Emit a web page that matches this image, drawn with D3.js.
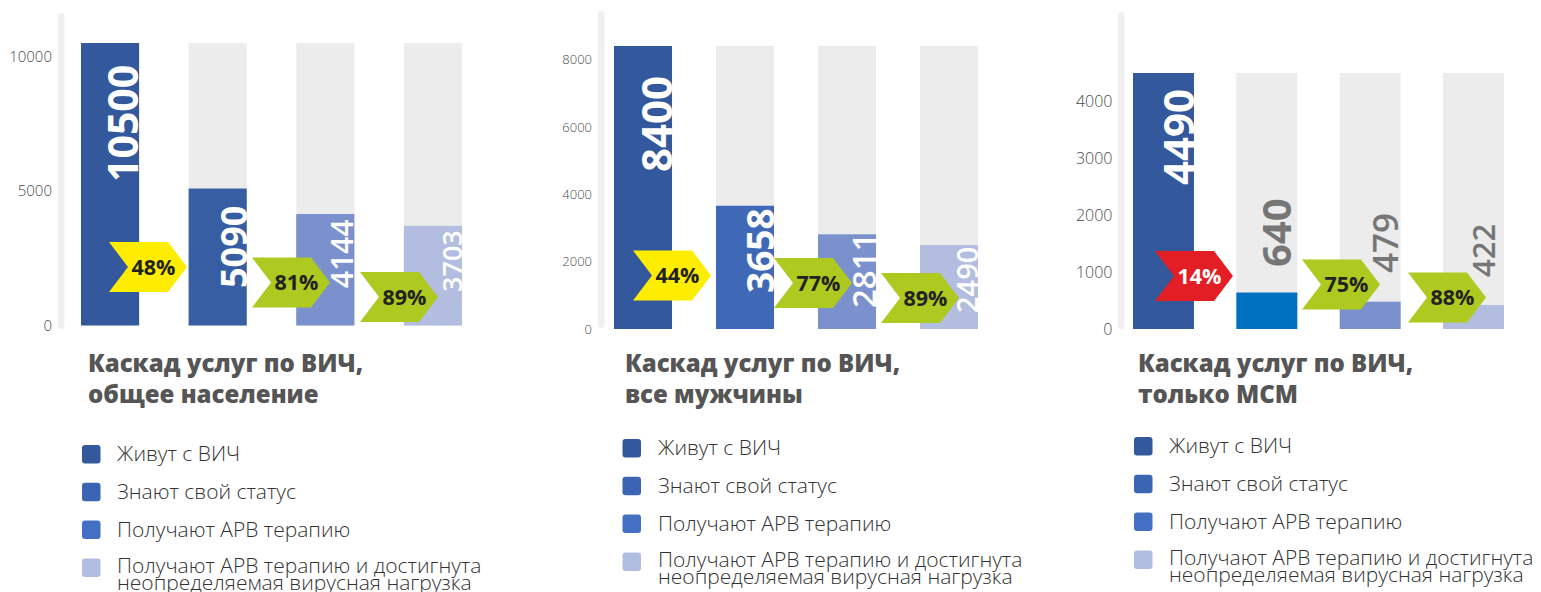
<!DOCTYPE html>
<html><head><meta charset="utf-8">
<script src="https://cdn.jsdelivr.net/npm/d3@7/dist/d3.min.js"></script>
<style>body{margin:0;background:#fff}svg{display:block}</style>
</head><body><svg id="c" width="1541" height="592"></svg>
<script>
// ---------- data ----------
const categories = ["Живут с ВИЧ", "Знают свой статус", "Получают АРВ терапию",
  "Получают АРВ терапию и достигнута\nнеопределяемая вирусная нагрузка"];
const valuesGeneral = [10500, 5090, 4144, 3703];
const valuesMen = [8400, 3658, 2811, 2490];
const valuesMSM = [4490, 640, 479, 422];
const ratesGeneral = ["48%", "81%", "89%"];
const ratesMen = ["44%", "77%", "89%"];
const ratesMSM = ["14%", "75%", "88%"];
const ticksGeneral = [0, 5000, 10000];
const ticksMen = [0, 2000, 4000, 6000, 8000];
const ticksMSM = [0, 1000, 2000, 3000, 4000];
const titleLine1 = ["Каскад услуг по ВИЧ,", "Каскад услуг по ВИЧ,", "Каскад услуг по ВИЧ,"];
const titleLine2 = ["общее население", "все мужчины", "только МСМ"];

// ---------- layout / style (not data) ----------
const FONT = "'Open Sans', 'Noto Sans', sans-serif";
const GRAY_BG = "#ebeceb";
const legendColors = ["#33589b", "#3b64b2", "#4470c4", "#b1bde0"];
const layout = [
  { values: valuesGeneral, rates: ratesGeneral, ticks: ticksGeneral,
    xr: [81, 462], pad: 0.46, yr: [325.5, 43],
    axisBar: [58, 13, 329], tickX: 52, tickSize: 15,
    barColors: ["#33589b", "#375ea2", "#7b91cd", "#b2bde0"],
    labelColors: ["#fff", "#fff", "#fff", "#fff"],
    labelSizes: [41, 36, 30, 27], labelWeights: [700, 700, 600, 600],
    labelStart: [143.5, 37.5, 37.5, 33.5], labelDx: [-1, 0, -1, 0],
    arrowX: [109, 252, 360], arrowY: [58.5, 43, 28.5],
    arrowColors: ["#ffed00", "#aec91f", "#aec91f"], arrowText: ["#222", "#222", "#222"],
    titleX: 88, titleY: 372, legSqX: 82, legTxX: 117, legY: 454 },
  { values: valuesMen, rates: ratesMen, ticks: ticksMen,
    xr: [614, 978], pad: 0.431, yr: [329, 46],
    axisBar: [598, 11, 328], tickX: 592, tickSize: 13,
    barColors: ["#33589b", "#3f69b7", "#7b91cd", "#b2bde0"],
    labelColors: ["#fff", "#fff", "#fff", "#fff"],
    labelSizes: [42, 37, 33, 29], labelWeights: [700, 700, 600, 600],
    labelStart: [157, 36, 21, 16], labelDx: [0, 0, 0, 0],
    arrowX: [633, 774, 881], arrowY: [53.5, 46, 31],
    arrowColors: ["#ffed00", "#aec91f", "#aec91f"], arrowText: ["#222", "#222", "#222"],
    titleX: 625, titleY: 372, legSqX: 622.5, legTxX: 658, legY: 448 },
  { values: valuesMSM, rates: ratesMSM, ticks: ticksMSM,
    xr: [1133, 1504], pad: 0.41, yr: [329, 73],
    axisBar: [1118, 12, 329], tickX: 1112.5, tickSize: 16,
    barColors: ["#33589b", "#0070c0", "#7b91cd", "#b2bde0"],
    labelColors: ["#fff", "#767676", "#767676", "#767676"],
    labelSizes: [42, 40, 35, 31], labelWeights: [700, 700, 600, 600],
    labelStart: [144, 62, 56, 52], labelDx: [0, -6, -3, -9],
    arrowX: [1155, 1302, 1408], arrowY: [53, 44.5, 31.5],
    arrowColors: ["#e31e24", "#aec91f", "#aec91f"], arrowText: ["#fff", "#222", "#222"],
    titleX: 1138, titleY: 372, legSqX: 1134, legTxX: 1169, legY: 446 }
];

const svg = d3.select("#c").style("font-family", FONT);

layout.forEach((p, pi) => {
  const g = svg.append("g");
  const idx = d3.range(p.values.length);
  const x = d3.scaleBand().domain(idx).range(p.xr).paddingInner(p.pad).paddingOuter(0);
  const y = d3.scaleLinear().domain([0, d3.max(p.values)]).range(p.yr);
  const bw = x.bandwidth();
  const vmax = d3.max(p.values);

  // light vertical axis bar
  g.append("rect").attr("x", p.axisBar[0]).attr("y", p.axisBar[1])
    .attr("width", 6.5).attr("height", p.axisBar[2] - p.axisBar[1])
    .attr("rx", 3.2).attr("fill", "#f0f0f0");

  // ticks
  const axis = d3.axisLeft(y).tickValues(p.ticks).tickSize(0).tickPadding(0)
    .tickFormat(d3.format("d"));
  const ag = g.append("g").attr("transform", `translate(${p.tickX},0)`).call(axis);
  ag.select(".domain").remove();
  ag.selectAll("text").attr("fill", "#4a4a4a").style("font-size", p.tickSize + "px")
    .style("font-family", FONT).style("font-weight", 300);

  // background bars
  g.selectAll(".bg").data(idx.slice(1)).join("rect")
    .attr("x", i => x(i)).attr("width", bw)
    .attr("y", y(vmax)).attr("height", y(0) - y(vmax)).attr("fill", GRAY_BG);

  // value bars
  g.selectAll(".bar").data(p.values).join("rect")
    .attr("x", (d, i) => x(i)).attr("width", bw)
    .attr("y", d => y(d)).attr("height", d => y(0) - y(d))
    .attr("fill", (d, i) => p.barColors[i]);

  // value labels (rotated)
  g.selectAll(".lbl").data(p.values).join("text")
    .attr("transform", (d, i) => `translate(${x(i) + bw + p.labelDx[i]},${y(0) - p.labelStart[i]}) rotate(-90)`)
    .attr("fill", (d, i) => p.labelColors[i])
    .style("font-size", (d, i) => p.labelSizes[i] + "px")
    .style("font-weight", (d, i) => p.labelWeights[i])
    .text(d => d);

  // chevron arrows with conversion rates
  const W = 78, H = 50, N = 19;
  p.rates.forEach((r, k) => {
    const x0 = p.arrowX[k], yc = y(0) - p.arrowY[k];
    const path = d3.path();
    path.moveTo(x0, yc - H / 2);
    path.lineTo(x0 + W - N, yc - H / 2);
    path.lineTo(x0 + W, yc);
    path.lineTo(x0 + W - N, yc + H / 2);
    path.lineTo(x0, yc + H / 2);
    path.lineTo(x0 + N, yc);
    path.closePath();
    g.append("path").attr("d", path.toString()).attr("fill", p.arrowColors[k]);
    g.append("text").attr("x", x0 + 44.5).attr("y", yc).attr("dy", "0.36em")
      .attr("text-anchor", "middle").attr("fill", p.arrowText[k])
      .style("font-size", "21.5px").style("font-weight", 700).text(r);
  });

  // title
  const t = g.append("text").attr("x", p.titleX).attr("y", p.titleY)
    .attr("fill", "#555").style("font-size", "24px").style("font-weight", 800);
  t.append("tspan").attr("x", p.titleX).text(titleLine1[pi]);
  t.append("tspan").attr("x", p.titleX).attr("dy", 31).text(titleLine2[pi]);

  // legend
  categories.forEach((c, k) => {
    const cy = p.legY + k * 37.8;
    g.append("rect").attr("x", p.legSqX).attr("y", cy - 9).attr("width", 18.5).attr("height", 18.5)
      .attr("rx", 3).attr("fill", legendColors[k]);
    const lines = c.split("\n");
    const tx = g.append("text").attr("x", p.legTxX).attr("y", cy - (lines.length > 1 ? 2 : 0))
      .attr("fill", "#333")
      .style("font-size", "21px").style("font-weight", 300);
    lines.forEach((l, li) => {
      tx.append("tspan").attr("x", p.legTxX).attr("dy", li === 0 ? "0.35em" : "17px").text(l);
    });
  });
});
</script></body></html>
